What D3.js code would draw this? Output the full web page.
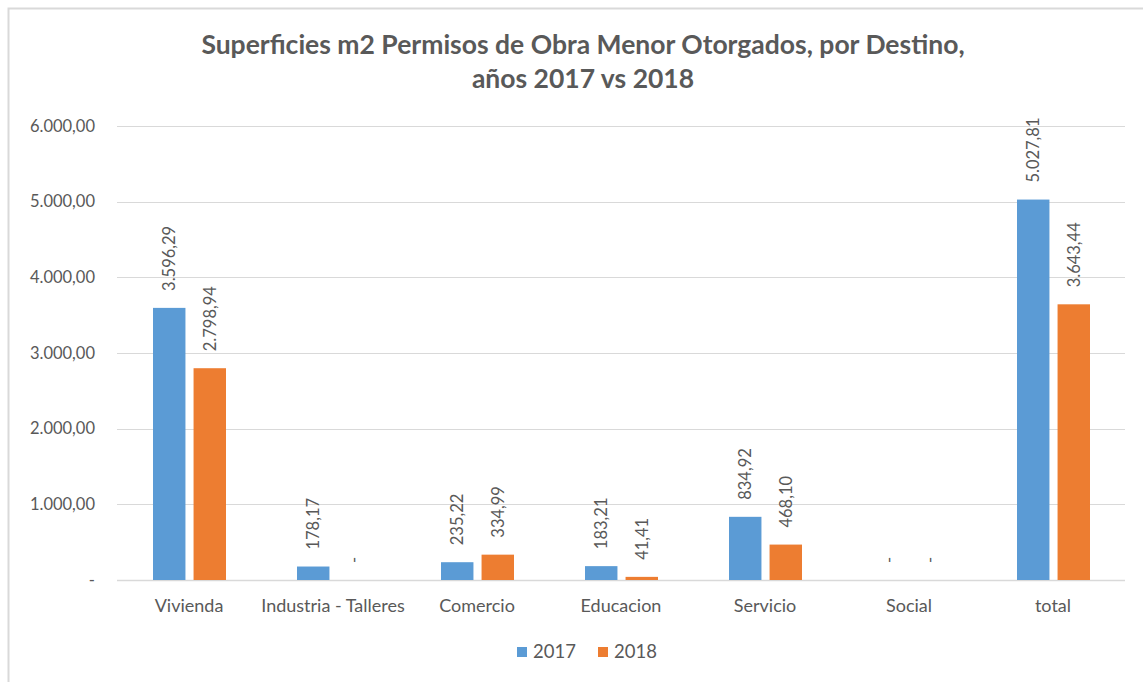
<!DOCTYPE html>
<html><head><meta charset="utf-8">
<script src="https://cdn.jsdelivr.net/npm/d3@7"></script>
<style>body{margin:0;background:#fff}svg{display:block}text{font-family:Lato,"Open Sans",sans-serif}</style>
</head><body><svg id="c" width="1143" height="682"></svg>
<script>
const categories = ["Vivienda","Industria - Talleres","Comercio","Educacion","Servicio","Social","total"];
const seriesNames = ["2017","2018"];
const values2017 = [3596.29,178.17,235.22,183.21,834.92,0,5027.81];
const values2018 = [2798.94,0,334.99,41.41,468.10,0,3643.44];
const yTicks = [0,1000,2000,3000,4000,5000,6000];
const colors = ["#5B9BD5","#ED7D31"];
const titleLines = ["Superficies m2 Permisos de Obra Menor Otorgados, por Destino,","años 2017 vs 2018"];

const svg = d3.select("#c");
const W = 1143, H = 682;
svg.append("rect").attr("x",8.5).attr("y",8.5).attr("width",W+10).attr("height",H+10)
  .attr("fill","#fff").attr("stroke","#D9D9D9").attr("stroke-width",2);

const x0 = d3.scaleBand().domain(categories).range([117,1125]);
const y = d3.scaleLinear().domain([0,6000]).range([580,126]);
const bw = x0.bandwidth();
const x1 = d3.scaleBand().domain(seriesNames).range([bw/2-36, bw/2+37]).paddingInner(0.2);

const fmt = v => v===0 ? "-" : v.toLocaleString("de-DE",{minimumFractionDigits:2,maximumFractionDigits:2});

// gridlines
svg.append("g").selectAll("line").data(yTicks).join("line")
  .attr("x1",117).attr("x2",1125).attr("y1",d=>Math.round(y(d))+0.5).attr("y2",d=>Math.round(y(d))+0.5)
  .attr("stroke","#D9D9D9").attr("stroke-width",d=>d===0?1.5:1.2);

// y axis labels
const yAxis = d3.axisLeft(y).tickValues(yTicks).tickFormat(fmt).tickSize(0).tickPadding(0);
const ga = svg.append("g").attr("transform","translate(95,0)").call(yAxis);
ga.select(".domain").remove();
ga.selectAll("text").attr("fill","#595959").attr("font-size",16.5).attr("font-family","Lato,sans-serif");

// x axis labels
const xAxis = d3.axisBottom(x0).tickSize(0).tickPadding(0);
const gx = svg.append("g").attr("transform","translate(0,599)").call(xAxis);
gx.select(".domain").remove();
gx.selectAll("text").attr("fill","#595959").attr("font-size",18).attr("font-family","Lato,sans-serif");

const data = categories.map((c,i)=>({cat:c, vals:[values2017[i],values2018[i]]}));
const groups = svg.append("g").selectAll("g").data(data).join("g")
  .attr("transform",d=>`translate(${x0(d.cat)},0)`);
groups.selectAll("rect").data(d=>d.vals.map((v,j)=>({v,s:seriesNames[j],j}))).join("rect")
  .attr("x",d=>x1(d.s)).attr("width",x1.bandwidth())
  .attr("y",d=>y(d.v)).attr("height",d=>y(0)-y(d.v))
  .attr("fill",d=>colors[d.j]);
groups.selectAll("text").data(d=>d.vals.map((v,j)=>({v,s:seriesNames[j],j}))).join("text")
  .attr("transform",d=>`translate(${x1(d.s)+x1.bandwidth()/2},${y(d.v)-17}) rotate(-90)`)
  .attr("dy","0.35em").attr("text-anchor","start")
  .attr("fill","#595959").attr("font-size",16.5).text(d=>fmt(d.v));

// title
svg.append("g").selectAll("text").data(titleLines).join("text")
  .attr("x",583).attr("y",(d,i)=>54+i*34).attr("text-anchor","middle")
  .attr("font-weight","bold").attr("font-size",26.5).attr("fill","#595959").text(d=>d);

// legend
const lg = svg.append("g").selectAll("g").data(seriesNames).join("g")
  .attr("transform",(d,i)=>`translate(${517+i*81},647)`);
lg.append("rect").attr("width",10).attr("height",10).attr("fill",(d,i)=>colors[i]);
lg.append("text").attr("x",16).attr("y",5).attr("dy","0.35em").attr("font-size",18.5)
  .attr("fill","#595959").text(d=>d);
</script></body></html>
